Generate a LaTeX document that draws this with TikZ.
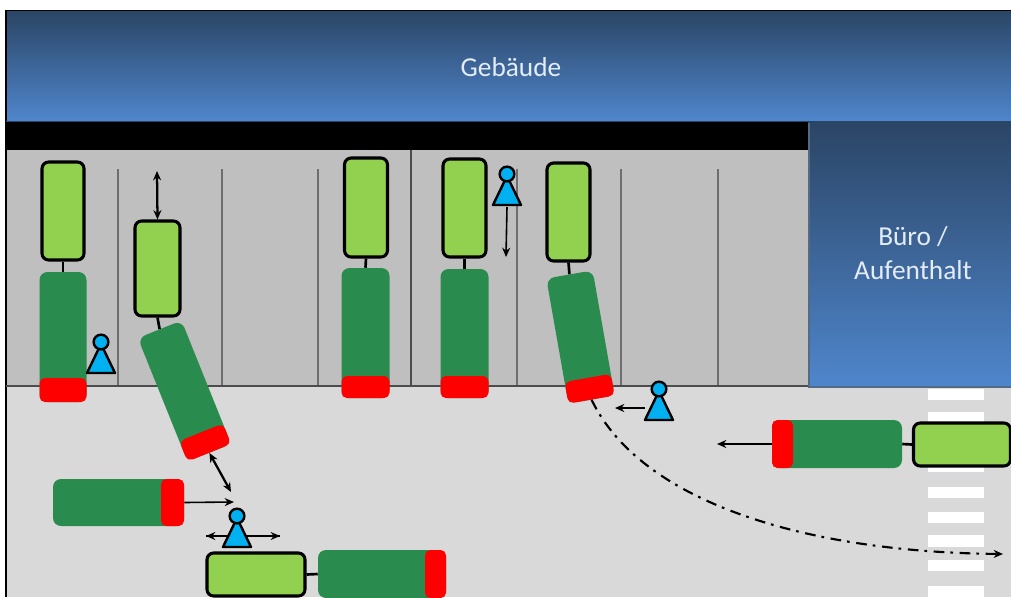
\documentclass[tikz,border=0pt]{standalone}
\usepackage{fontspec}
\setmainfont{Carlito}
\usepackage{xcolor}
\usetikzlibrary{arrows.meta}
\definecolor{roofdark}{HTML}{2B4565}
\definecolor{roofblue}{HTML}{4F86CC}
\definecolor{bayfill}{HTML}{BFBFBF}
\definecolor{yardfill}{HTML}{D9D9D9}
\definecolor{bayline}{HTML}{6E6E6E}
\definecolor{cabgreen}{HTML}{92D050}
\definecolor{bodygreen}{HTML}{2A8B4F}
\definecolor{pawnblue}{HTML}{00B0F0}
\definecolor{labeltext}{HTML}{E3ECF7}
\tikzset{
  cabbox/.style={draw=black,line width=2.3pt,fill=cabgreen,rounded corners=5pt,inner sep=0pt},
  bodybox/.style={fill=bodygreen,rounded corners=6pt,inner sep=0pt},
  tailbox/.style={fill=red,rounded corners=4pt,inner sep=0pt,anchor=south},
  hitch/.style={line width=2pt},
  pawnhead/.style={circle,draw=black,line width=1.8pt,fill=pawnblue,minimum size=11pt,inner sep=0pt},
  move/.style={-{Stealth[length=7pt,width=6pt]},line width=1.2pt},
  moveboth/.style={{Stealth[length=7pt,width=6pt]}-{Stealth[length=7pt,width=6pt]},line width=1.7pt},
  roofnote/.style={text=labeltext,font=\fontsize{20.5}{25}\selectfont,align=center,inner sep=0pt}
}
\begin{document}
\begin{tikzpicture}[x=0.75pt,y=-0.75pt]
  \useasboundingbox (0,0) rectangle (1011,597);
  \clip (0,0) rectangle (1011,597);
  % gebaeude und hof
  \fill[yardfill] (6,386) rectangle (1011,597);
  \fill[bayfill] (6,150) rectangle (808,387);
  \fill[roofdark] (808,121) rectangle (1011,124);
  \fill[black] (6,122) rectangle (808,150);
  \shade[top color=roofdark,bottom color=roofblue] (6,11) rectangle (1011,121);
  \shade[top color=roofdark,bottom color=roofblue] (808,123) rectangle (1011,387);
  \draw[black,line width=1.4pt] (6,597) -- (6,10.5) -- (1011,10.5);
  \draw[roofdark,line width=1pt] (6,121.5) -- (1011,121.5);
  \draw[roofdark!80,line width=1pt] (809,123) -- (809,387) -- (1011,387);
  \node[roofnote] (gebaeude) at (511,67) {Gebäude};
  \node[roofnote] (buero) at (913,253) {Büro /\\Aufenthalt};
  % zebrastreifen
  \foreach \ya/\yb in {389/400,412/423,461/472,487/498,512/523,535/547,560/571,586/597}{
    \fill[white] (928,\ya) rectangle (984,\yb);
  }
  % stellplaetze
  \foreach \sx in {118,222,318,517,621,718}{
    \draw[bayline,line width=1.2pt] (\sx,169) -- (\sx,386);
  }
  \draw[black!70,line width=1.5pt] (411,150) -- (411,386);
  \draw[black!70,line width=1.5pt] (6,386) -- (808,386);
  % fahrspur
  \coordinate (laneend) at (1003,554);
  % sattelzuege
  \foreach \n/\bx/\by/\bl/\bw/\tl/\rot in {%
    a/63/337/130/47/24/0,
    b/184.5/391/133/47/22/21.9,
    c/365.5/333/130/48/22/0,
    d/464.5/333.5/129/48/22/0,
    e/580.5/337/127/47/22/10,
    f/118.5/502.5/131/47/23/90,
    g/382/574/128/48/21/90,
    h/837/444/130/48/21/-90%
  }{
    \node[bodybox,minimum width=\bw*0.75pt,minimum height=\bl*0.75pt,rotate=\rot] (body\n) at (\bx,\by) {};
    \node[tailbox,minimum width=\bw*0.75pt,minimum height=\tl*0.75pt,rotate=\rot] (tail\n) at (body\n.south) {};
  }
  \foreach \n/\cx/\cy/\cl/\cw/\rot in {%
    a/63/211/98/42/0,
    b/157.5/268.5/95/45/0,
    c/366/207.5/99/43/0,
    d/464.5/208/98/43/0,
    e/568.5/212/98/43/0,
    g/256/574.5/98/43/90,
    h/962/444.5/97/43/-90%
  }{
    \node[cabbox,minimum width=\cw*0.75pt,minimum height=\cl*0.75pt,rotate=\rot] (cab\n) at (\cx,\cy) {};
    \draw[hitch] (cab\n.south) -- (body\n.north);
  }
  % bewegungen
  \coordinate (gapb) at (157,171);
  \coordinate (gapf) at (231,492);
  \coordinate (crossleft) at (206,536);
  \coordinate (crossright) at (280,536);
  \coordinate (leaveh) at (717,444);
  \coordinate (arrivef) at (234,502);
  \draw[moveboth] (cabb.north) -- (gapb);
  \draw[moveboth] (tailb.south) -- (gapf);
  \draw[move] (tailf.south) -- (arrivef);
  \draw[move] (tailh.south) -- (leaveh);
  \draw[move] (crossleft) -- (crossright);
  \draw[move] (crossright) -- (crossleft);
  \draw[move,line width=1.6pt,dash pattern=on 8pt off 4.5pt on 2pt off 5pt] (taile.south) .. controls (640,500) and (800,552) .. (laneend);
  % personen
  \foreach \n/\hx/\hy in {a/101/342,b/237/516,c/507/174,d/659/389}{
    \filldraw[fill=pawnblue,draw=black,line width=1.8pt,line join=round] (\hx-14,\hy+31) -- (\hx,\hy+2) -- (\hx+14,\hy+31) -- cycle;
    \node[pawnhead] (head\n) at (\hx,\hy) {};
    \coordinate (foot\n) at (\hx,\hy+33);
    \coordinate (side\n) at (\hx-14,\hy+19);
  }
  \coordinate (walkc) at (506,257);
  \coordinate (walkd) at (615,408);
  \draw[move] (footc) -- (walkc);
  \draw[move] (sided) -- (walkd);
\end{tikzpicture}
\end{document}
